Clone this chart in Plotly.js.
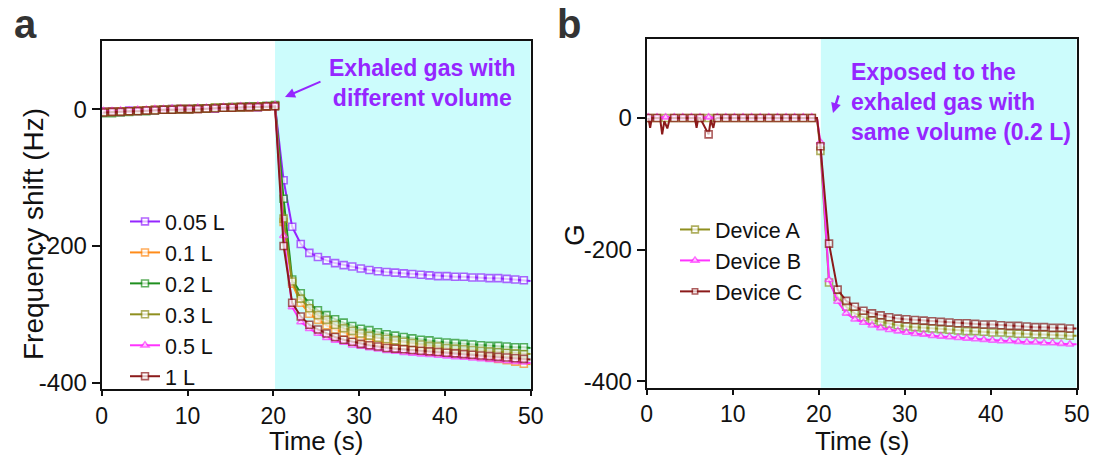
<!DOCTYPE html>
<html>
<head>
<meta charset="utf-8">
<script src="https://cdn.plot.ly/plotly-3.0.1.min.js"></script>
<style>html,body{margin:0;padding:0;background:#fff;}#chart{width:1097px;height:455px;}</style>
</head>
<body>
<div id="chart"></div>
<script>
// ---------- Panel a data ----------
const timeA = [0.2,1.2,2.2,3.2,4.2,5.2,6.2,7.2,8.2,9.2,10.2,11.2,12.2,13.2,14.2,15.2,16.2,17.2,18.2,19.2,20.2,
  21.2,22.2,23.2,24.2,25.2,26.2,27.2,28.2,29.2,30.2,31.2,32.2,33.2,34.2,35.2,36.2,37.2,38.2,39.2,40.2,
  41.2,42.2,43.2,44.2,45.2,46.2,47.2,48.2,49.2,50];
const namesA = ["0.05 L","0.1 L","0.2 L","0.3 L","0.5 L","1 L"];
const vol005 = [-3,-3,-3,-2,-2,-2,-1,-1,0,0,0,1,1,1,2,2,3,3,3,4,5,
  -104,-172,-197,-210,-216,-221,-225,-228,-230,-233,-235,-237,-238,-239,-240,-241,-242,-243,-244,-244,
  -245,-245,-246,-246,-247,-247,-248,-249,-250,-251];
const vol01 = [-4,-4,-3,-3,-2,-2,-1,-1,-1,0,0,1,1,2,2,2,3,3,4,4,5,
  -165,-255,-283,-299,-308,-316,-322,-327,-331,-334,-337,-340,-342,-344,-346,-348,-350,-352,-353,-355,
  -357,-358,-360,-361,-363,-365,-367,-369,-372,-373];
const vol02 = [-6,-6,-5,-4,-3,-3,-2,-1,-1,0,0,1,1,2,2,3,3,4,4,5,6,
  -131,-249,-269,-284,-294,-301,-307,-312,-317,-321,-323,-326,-329,-331,-333,-335,-337,-338,-340,-341,
  -342,-343,-344,-345,-346,-346,-347,-348,-348,-349];
const vol03 = [-4,-4,-3,-3,-2,-2,-1,-1,0,0,0,1,1,2,2,3,3,3,4,4,5,
  -160,-252,-277,-291,-301,-308,-315,-320,-324,-328,-331,-334,-336,-338,-340,-342,-344,-346,-347,-349,
  -350,-351,-352,-353,-354,-355,-356,-357,-358,-358];
const vol05 = [-3,-3,-2,-2,-1,-1,0,0,1,1,1,2,2,2,3,3,4,4,5,5,6,
  -185,-289,-311,-321,-328,-334,-338,-341,-345,-347,-349,-351,-353,-354,-356,-357,-358,-359,-360,-361,
  -362,-363,-364,-365,-366,-367,-368,-369,-370,-371];
const vol1 = [-5,-4,-4,-3,-3,-2,-2,-1,-1,0,0,0,1,1,2,2,3,3,3,4,4,
  -200,-283,-303,-315,-322,-328,-333,-337,-340,-343,-345,-347,-349,-350,-351,-352,-353,-354,-355,-356,
  -357,-358,-359,-360,-361,-362,-363,-364,-365,-366];

// ---------- Panel b data ----------
const timeAB = [0.2,1.2,2.2,3.2,4.2,5.2,6.2,7.2,8.2,9.2,10.2,11.2,12.2,13.2,14.2,15.2,16.2,17.2,18.2,19.2,19.8,20.2,
  21.2,22.2,23.2,24.2,25.2,26.2,27.2,28.2,29.2,30.2,31.2,32.2,33.2,34.2,35.2,36.2,37.2,38.2,39.2,40.2,
  41.2,42.2,43.2,44.2,45.2,46.2,47.2,48.2,49.2,50];
const devA = [0,0,0,0,0,0,0,0,0,0,0,0,0,0,0,0,0,0,0,0,0,-50,
  -250,-272,-287,-297,-303,-307,-310,-313,-315,-317,-318,-319,-320,-321,-322,-323,-324,-324,-325,-326,
  -326,-327,-328,-328,-329,-329,-330,-330,-331,-331];
const devB = [1,1,1,1,1,1,1,1,1,1,1,1,1,1,1,1,1,1,1,1,0,-37,
  -246,-279,-297,-306,-311,-315,-319,-322,-324,-326,-328,-329,-331,-332,-333,-334,-335,-336,-337,-338,
  -339,-339,-340,-341,-341,-342,-342,-343,-344,-344];
const timeC = [0.2,0.4,0.6,1.2,1.55,1.8,2.05,2.4,2.7,3.2,4.2,5.2,5.6,5.8,6.0,6.2,7.2,7.45,7.75,7.95,8.2,
  9.2,10.2,11.2,12.2,13.2,14.2,15.2,16.2,17.2,18.2,19.2,19.8,20.2,
  21.2,22.2,23.2,24.2,25.2,26.2,27.2,28.2,29.2,30.2,31.2,32.2,33.2,34.2,35.2,36.2,37.2,38.2,39.2,40.2,
  41.2,42.2,43.2,44.2,45.2,46.2,47.2,48.2,49.2,50];
const devC = [0,-15,0,0,0,-25,-5,-16,0,0,0,0,0,-15,0,0,-25,-3,-15,-2,0,
  0,0,0,0,0,0,0,0,0,0,0,0,-43,
  -191,-261,-278,-287,-293,-297,-300,-303,-305,-306,-307,-308,-309,-310,-311,-312,-312,-313,-314,-314,
  -315,-316,-316,-317,-318,-318,-319,-319,-320,-320];
const namesB = ["Device A","Device B","Device C"];

const xTicks = [0,10,20,30,40,50];
const yTicks = [-400,-200,0];
const yTickText = ["-400","-200","0"];
const exposureStartA = 20.2, exposureStartB = 20.25;

// ---------- helpers ----------
const W = 1097, H = 455;
const px = x => x / W, py = y => 1 - y / H;
const FONT = 'Arial, "Liberation Sans", sans-serif';
const PURPLE = '#9526FF';
function markerSizes(t, s) {
  return t.map(v => (Math.abs((v - 0.2) - Math.round(v - 0.2)) < 1e-6 && v < 49.5) ? s : 0);
}
function tr(x, y, name, color, symbol, xa, ya, leg) {
  return {
    x: x, y: y, name: name, type: 'scatter', mode: 'lines+markers',
    xaxis: xa, yaxis: ya, legend: leg, cliponaxis: true,
    line: {color: color, width: 2},
    marker: {symbol: symbol, size: markerSizes(x, 7), color: '#ffffff', line: {color: color, width: 1.6}}
  };
}
const data = [
  tr(timeA, vol005, namesA[0], PURPLE, 'square', 'x', 'y', 'legend'),
  tr(timeA, vol01, namesA[1], '#FF8C1A', 'square', 'x', 'y', 'legend'),
  tr(timeA, vol02, namesA[2], '#1F8F1F', 'square', 'x', 'y', 'legend'),
  tr(timeA, vol03, namesA[3], '#8F8F1F', 'square', 'x', 'y', 'legend'),
  tr(timeA, vol05, namesA[4], '#FF33FF', 'triangle-up', 'x', 'y', 'legend'),
  tr(timeA, vol1, namesA[5], '#8B1A1A', 'square', 'x', 'y', 'legend'),
  tr(timeAB, devA, namesB[0], '#8F8F1F', 'square', 'x2', 'y2', 'legend2'),
  tr(timeAB, devB, namesB[1], '#FF33FF', 'triangle-up', 'x2', 'y2', 'legend2'),
  tr(timeC, devC, namesB[2], '#8B1A1A', 'square', 'x2', 'y2', 'legend2')
];

function xAxis(domain, anchor) {
  return {domain: domain, anchor: anchor, range: [0, 50], tickmode: 'array', tickvals: xTicks,
    ticks: 'outside', ticklen: 5, tickwidth: 2, tickcolor: '#111', showline: true, mirror: true,
    linewidth: 2, linecolor: '#111', showgrid: false, zeroline: false,
    tickfont: {family: FONT, size: 23, color: '#111'}};
}
function yAxis(domain, anchor, range) {
  return {domain: domain, anchor: anchor, range: range, tickmode: 'array', tickvals: yTicks, ticktext: yTickText,
    ticks: 'outside', ticklen: 8, tickwidth: 2, tickcolor: '#111', showline: true, mirror: true,
    linewidth: 2, linecolor: '#111', showgrid: false, zeroline: false,
    tickfont: {family: FONT, size: 24, color: '#111'}};
}

const layout = {
  width: W, height: H, margin: {l: 0, r: 0, t: 0, b: 0},
  paper_bgcolor: '#ffffff', plot_bgcolor: 'rgba(0,0,0,0)',
  showlegend: true,
  xaxis: xAxis([px(101.7), px(530.7)], 'y'),
  yaxis: yAxis([py(389), py(40.7)], 'x', [-409, 100]),
  xaxis2: xAxis([px(646.7), px(1076.7)], 'y2'),
  yaxis2: yAxis([py(387.7), py(39)], 'x2', [-410, 120]),
  legend: {x: px(125), y: py(201), xanchor: 'left', yanchor: 'top', bgcolor: 'rgba(0,0,0,0)',
    font: {family: FONT, size: 21.5, color: '#111'}, tracegroupgap: 0},
  legend2: {x: px(675), y: py(209), xanchor: 'left', yanchor: 'top', bgcolor: 'rgba(0,0,0,0)',
    font: {family: FONT, size: 21.5, color: '#111'}, tracegroupgap: 0},
  shapes: [
    {type: 'rect', xref: 'x', yref: 'y domain', x0: exposureStartA, x1: 50, y0: 0, y1: 1,
      fillcolor: '#CCFCFC', line: {width: 0}, layer: 'below'},
    {type: 'rect', xref: 'x2', yref: 'y2 domain', x0: exposureStartB, x1: 50, y0: 0, y1: 1,
      fillcolor: '#CCFCFC', line: {width: 0}, layer: 'below'}
  ],
  annotations: [
    {text: '<b>a</b>', xref: 'paper', yref: 'paper', x: px(25), y: py(24), xanchor: 'center', yanchor: 'middle',
      showarrow: false, font: {family: FONT, size: 40, color: '#333'}},
    {text: '<b>b</b>', xref: 'paper', yref: 'paper', x: px(569), y: py(24), xanchor: 'center', yanchor: 'middle',
      showarrow: false, font: {family: FONT, size: 40, color: '#333'}},
    {text: 'Frequency shift (Hz)', xref: 'paper', yref: 'paper', x: px(34), y: py(234), textangle: -90,
      xanchor: 'center', yanchor: 'middle', showarrow: false, font: {family: FONT, size: 28, color: '#111'}},
    {text: 'G', xref: 'paper', yref: 'paper', x: px(574), y: py(235), textangle: -90,
      xanchor: 'center', yanchor: 'middle', showarrow: false, font: {family: FONT, size: 28, color: '#111'}},
    {text: 'Time (s)', xref: 'paper', yref: 'paper', x: px(316), y: py(441),
      xanchor: 'center', yanchor: 'middle', showarrow: false, borderpad: 0, font: {family: FONT, size: 26, color: '#111'}},
    {text: 'Time (s)', xref: 'paper', yref: 'paper', x: px(862), y: py(441),
      xanchor: 'center', yanchor: 'middle', showarrow: false, borderpad: 0, font: {family: FONT, size: 26, color: '#111'}},
    {text: '<b>Exhaled gas with<br>different volume</b>', xref: 'paper', yref: 'paper', x: px(422), y: py(83),
      xanchor: 'center', yanchor: 'middle', align: 'center', showarrow: false,
      font: {family: FONT, size: 23, color: PURPLE}},
    {text: '<b>Exposed to the<br>exhaled gas with<br>same volume (0.2 L)</b>', xref: 'paper', yref: 'paper',
      x: px(849), y: py(102), xanchor: 'left', yanchor: 'middle', align: 'left', showarrow: false,
      font: {family: FONT, size: 23, color: PURPLE}},
    {text: '', xref: 'paper', yref: 'paper', x: px(285), y: py(97), ax: 37, ay: -16,
      showarrow: true, arrowhead: 2, arrowsize: 1, arrowwidth: 2, arrowcolor: PURPLE},
    {text: '', xref: 'paper', yref: 'paper', x: px(833), y: py(113), ax: 6, ay: -19,
      showarrow: true, arrowhead: 2, arrowsize: 0.8, arrowwidth: 2.5, arrowcolor: PURPLE}
  ]
};

Plotly.newPlot('chart', data, layout, {staticPlot: true, displayModeBar: false});
</script>
</body>
</html>
